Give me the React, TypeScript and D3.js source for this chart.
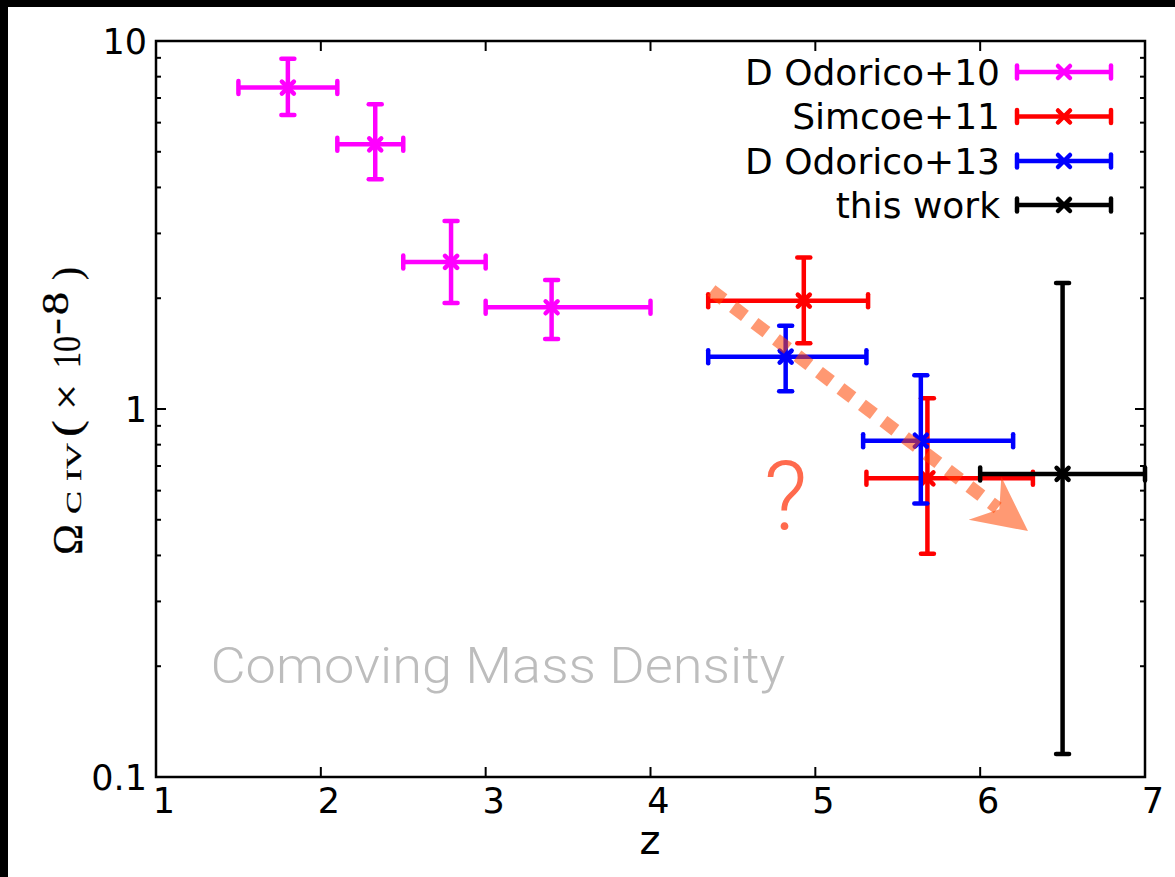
import React from "react";
import * as d3 from "d3";

// ---------- data ----------
const seriesNames = ["D Odorico+10", "Simcoe+11", "D Odorico+13", "this work"];
const seriesColors = ["#ff00ff", "#ff0000", "#0000ff", "#000000"];

// each point: z, zLow, zHigh, omega, omegaLow, omegaHigh
const dOdorico10 = [
  [1.8, 1.5, 2.1, 7.47, 6.29, 8.95],
  [2.33, 2.1, 2.5, 5.24, 4.21, 6.73],
  [2.79, 2.5, 3.0, 2.51, 1.94, 3.24],
  [3.4, 3.0, 4.0, 1.89, 1.55, 2.24],
];
const simcoe11 = [
  [4.93, 4.35, 5.32, 1.97, 1.51, 2.58],
  [5.68, 5.31, 6.32, 0.648, 0.404, 1.07],
];
const dOdorico13 = [
  [4.82, 4.35, 5.31, 1.387, 1.117, 1.684],
  [5.64, 5.29, 6.2, 0.82, 0.554, 1.235],
];
const thisWork = [[6.5, 6.0, 7.0, 0.666, 0.1155, 2.2]];
const allSeries = [dOdorico10, simcoe11, dOdorico13, thisWork];

const xTicks = [1, 2, 3, 4, 5, 6, 7];
const yMajor = [0.1, 1, 10];
const yTickLabels = ["0.1", "1", "10"];
const yMinor = [0.2, 0.3, 0.4, 0.5, 0.6, 0.7, 0.8, 0.9, 2, 3, 4, 5, 6, 7, 8, 9];

// annotation (data coords)
const trendArrow = { from: [4.37, 2.1], to: [6.29, 0.466] };
const questionMark = { z: 4.82, v: 0.47, text: "?" };
const watermark = { z: 1.33, v: 0.18, text: "Comoving Mass Density" };

// ---------- layout ----------
const W = 1175;
const H = 877;
const L = 156, R = 1145, T = 41, B = 777;

const x = d3.scaleLinear().domain([1, 7]).range([L, R]);
const y = d3.scaleLog().domain([0.1, 10]).range([B, T]);

const FONT = "'DejaVu Sans', sans-serif";
const SERIF = "'Liberation Serif', 'DejaVu Serif', serif";

function Marker({ cx, cy, color }: { cx: number; cy: number; color: string }) {
  const a = 6;
  return (
    <g stroke={color} strokeWidth={4.5} strokeLinecap="round">
      <line x1={cx - a} y1={cy - a} x2={cx + a} y2={cy + a} />
      <line x1={cx - a} y1={cy + a} x2={cx + a} y2={cy - a} />
    </g>
  );
}

function ErrorCross({ p, color }: { p: number[]; color: string }) {
  const [z, zl, zh, v, vl, vh] = p;
  const cx = x(z), cy = y(v);
  const cap = 6.5;
  return (
    <g stroke={color} strokeWidth={4.5} strokeLinecap="round" fill="none">
      <line x1={x(zl)} y1={cy} x2={x(zh)} y2={cy} strokeLinecap="butt" />
      <line x1={cx} y1={y(vl)} x2={cx} y2={y(vh)} strokeLinecap="butt" />
      <line x1={x(zl)} y1={cy - cap} x2={x(zl)} y2={cy + cap} />
      <line x1={x(zh)} y1={cy - cap} x2={x(zh)} y2={cy + cap} />
      <line x1={cx - cap} y1={y(vl)} x2={cx + cap} y2={y(vl)} />
      <line x1={cx - cap} y1={y(vh)} x2={cx + cap} y2={y(vh)} />
      <Marker cx={cx} cy={cy} color={color} />
    </g>
  );
}

// y-axis title pieces: text, start (screen y, bottom end), length, baseline x, font size
const yTitlePieces: [string, number, number, number, number][] = [
  ["Ω", 555, 31, 82, 42],
  ["C", 514, 23, 81, 21],
  ["IV", 481, 38, 81, 21],
  ["(", 437, 17, 80, 40],
  ["×", 410, 26, 80, 40],
  ["10", 368, 32, 80, 40],
  ["-", 335, 17, 68, 38],
  ["8", 315, 23, 68, 38],
  [")", 280, 13, 80, 40],
];

export default function App() {
  const ax0 = x(trendArrow.from[0]), ay0 = y(trendArrow.from[1]);
  const ax1 = x(trendArrow.to[0]), ay1 = y(trendArrow.to[1]);
  const ang = Math.atan2(ay1 - ay0, ax1 - ax0);
  const headLen = 54, headHalf = 27, notch = 36;
  const ux = Math.cos(ang), uy = Math.sin(ang);
  const px = -uy, py = ux;
  const bx = ax1 - ux * headLen, by = ay1 - uy * headLen;
  const nx = ax1 - ux * notch, ny = ay1 - uy * notch;
  const head = [
    [ax1, ay1],
    [bx + px * headHalf, by + py * headHalf],
    [nx, ny],
    [bx - px * headHalf, by - py * headHalf],
  ];
  const lineEndX = ax1 - ux * (notch + 2), lineEndY = ay1 - uy * (notch + 2);

  const legendRows = [72, 116.5, 161, 205];

  return (
    <svg
      width={W}
      height={H}
      style={{ position: "absolute", left: 0, top: 0, background: "#fff" }}
    >
      <rect x={0} y={0} width={W} height={H} fill="#fff" />
      <rect x={0} y={0} width={W} height={7} fill="#000" />
      <rect x={0} y={0} width={8} height={H} fill="#000" />

      {/* watermark */}
      <text
        x={x(watermark.z)}
        y={y(watermark.v)}
        fontFamily="Roboto, 'Open Sans', sans-serif"
        fontWeight={300}
        fontSize={50}
        fill="#bdbdbd"
        textLength={575}
        lengthAdjust="spacingAndGlyphs"
      >
        {watermark.text}
      </text>

      {/* ticks */}
      <g stroke="#000" strokeWidth={2}>
        {xTicks.slice(1, -1).map((t) => (
          <g key={"x" + t}>
            <line x1={x(t)} x2={x(t)} y1={B} y2={B - 10} />
            <line x1={x(t)} x2={x(t)} y1={T} y2={T + 10} />
          </g>
        ))}
        {yMajor.map((t) => (
          <g key={"ym" + t}>
            <line x1={L} x2={L + 10} y1={y(t)} y2={y(t)} />
            <line x1={R} x2={R - 10} y1={y(t)} y2={y(t)} />
          </g>
        ))}
        {yMinor.map((t) => (
          <g key={"yn" + t}>
            <line x1={L} x2={L + 5} y1={y(t)} y2={y(t)} />
            <line x1={R} x2={R - 5} y1={y(t)} y2={y(t)} />
          </g>
        ))}
      </g>

      {/* frame */}
      <rect x={L} y={T} width={R - L} height={B - T} fill="none" stroke="#000" strokeWidth={2.5} />

      {/* tick labels */}
      <g fontFamily={FONT} fontSize={35} fill="#000">
        {xTicks.map((t) => (
          <text key={"xl" + t} x={x(t) + 8} y={813} textAnchor="middle">
            {t}
          </text>
        ))}
        {yMajor.map((t, i) => (
          <text key={"yl" + t} x={147} y={y(t) + 13} textAnchor="end">
            {yTickLabels[i]}
          </text>
        ))}
      </g>

      {/* axis titles */}
      <text x={650} y={854} fontFamily={FONT} fontSize={40} textAnchor="middle">
        z
      </text>
      <g transform="rotate(-90)" fontFamily={SERIF} fill="#000" stroke="#000" strokeWidth={0.3}>
        {yTitlePieces.map(([t, sy, len, bx0, fs], i) => (
          <text
            key={"yt" + i}
            x={-sy}
            y={bx0}
            fontSize={fs}
            textLength={len}
            lengthAdjust="spacingAndGlyphs"
          >
            {t}
          </text>
        ))}
      </g>

      {/* data */}
      {allSeries.map((s, si) => (
        <g key={"s" + si}>
          {s.map((p, pi) => (
            <ErrorCross key={pi} p={p} color={seriesColors[si]} />
          ))}
        </g>
      ))}

      {/* legend */}
      {seriesNames.map((n, i) => {
        const cy = legendRows[i];
        const c = seriesColors[i];
        return (
          <g key={"lg" + i}>
            <text x={1000} y={cy + 12.5} fontFamily={FONT} fontSize={36} textAnchor="end" fill="#000">
              {n}
            </text>
            <g stroke={c} strokeWidth={4.5} strokeLinecap="round">
              <line x1={1017} x2={1111} y1={cy} y2={cy} strokeLinecap="butt" />
              <line x1={1017} x2={1017} y1={cy - 6.5} y2={cy + 6.5} />
              <line x1={1111} x2={1111} y1={cy - 6.5} y2={cy + 6.5} />
            </g>
            <Marker cx={1064} cy={cy} color={c} />
          </g>
        );
      })}

      {/* trend arrow */}
      <g opacity={0.55}>
        <line
          x1={ax0}
          y1={ay0}
          x2={lineEndX}
          y2={lineEndY}
          stroke="#ff4500"
          strokeWidth={13}
          strokeDasharray="15 12"
        />
      </g>
      <polygon
        points={head.map((p) => p.join(",")).join(" ")}
        fill="#ff4500"
        opacity={0.55}
      />
      <text
        x={x(questionMark.z)}
        y={y(questionMark.v)}
        textAnchor="middle"
        fontFamily="Roboto, 'Open Sans', sans-serif"
        fontWeight={300}
        fontSize={96}
        fill="#ff6a4d"
      >
        {questionMark.text}
      </text>
    </svg>
  );
}
